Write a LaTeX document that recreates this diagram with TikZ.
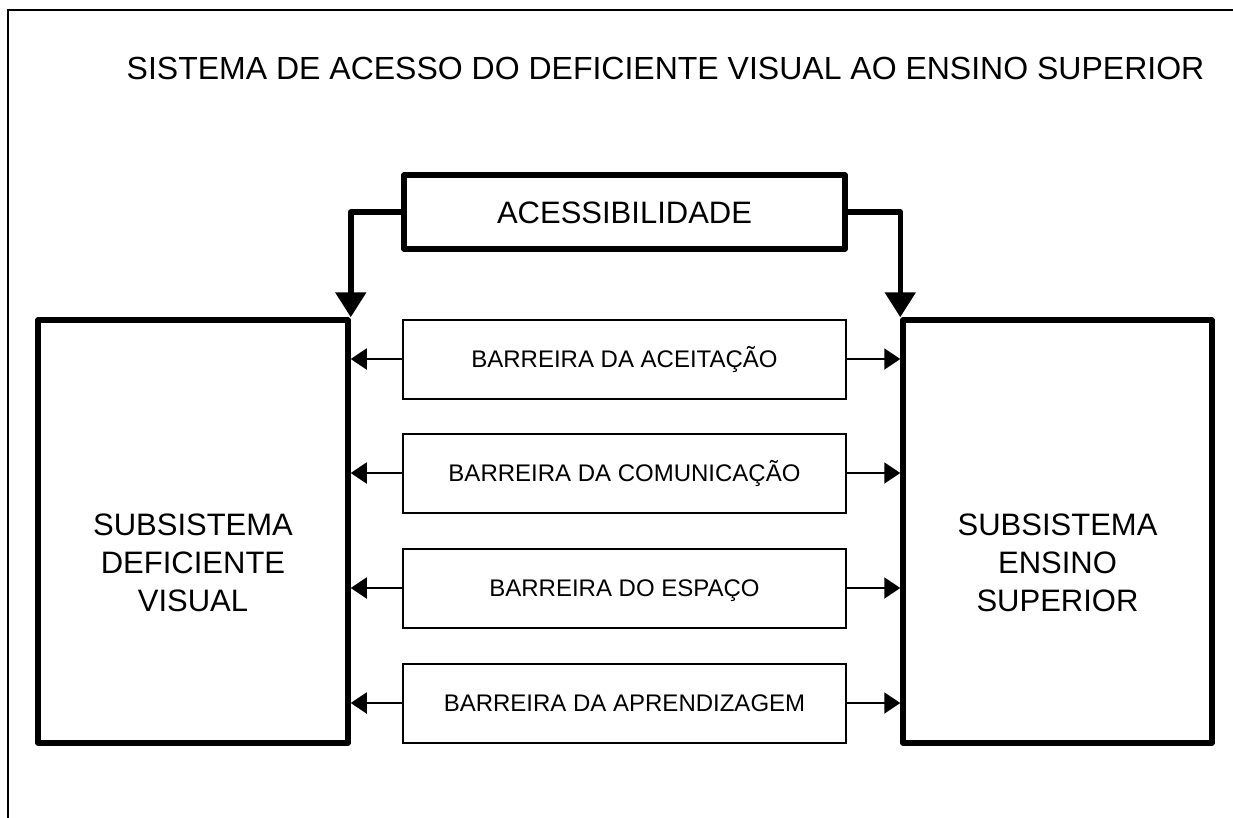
\documentclass[tikz,border=0pt]{standalone}
\usepackage{fontspec}
\setmainfont{Liberation Sans}
\usetikzlibrary{arrows.meta}
\begin{document}
\begin{tikzpicture}[x=1pt,y=-1pt,
  frameline/.style={line width=2.5pt},
  thickbox/.style={draw, line width=5.5pt, line join=round, inner sep=0pt},
  thinbox/.style={draw, line width=2pt, inner sep=0pt, minimum width=443pt, minimum height=79pt,
    font=\fontsize{24}{29}\selectfont, text height=17.2pt, text depth=0pt},
  bigtext/.style={inner sep=0pt, align=center, font=\fontsize{31}{38}\selectfont},
  bigarrow/.style={line width=5.5pt, line join=round, -{Triangle[length=25pt,width=30pt]}},
  smallarrow/.style={line width=2pt, -{Triangle[length=16pt,width=21pt]}}]
\useasboundingbox (0,0) rectangle (1233,818);
% frame
\draw[frameline] (8,818) -- (8,10) -- (1233,10);
% title
\node[anchor=base, inner sep=0pt, font=\fontsize{32}{38}\selectfont] (title) at (665.5,80)
  {SISTEMA DE ACESSO DO DEFICIENTE VISUAL AO ENSINO SUPERIOR};
% accessibility box
\node[thickbox, minimum width=441pt, minimum height=74pt, font=\fontsize{31}{37}\selectfont,
  text height=22.2pt, text depth=0pt] (acc) at (624.5,212) {ACESSIBILIDADE};
% big boxes
\node[thickbox, minimum width=310pt, minimum height=423pt] (dv) at (193,531.5) {};
\node[thickbox, minimum width=309pt, minimum height=423pt] (es) at (1057.5,531.5) {};
\node[bigtext] (dvtext) at (193,563) {SUBSISTEMA\\DEFICIENTE\\VISUAL};
\node[bigtext] (estext) at (1057.5,563) {SUBSISTEMA\\ENSINO\\SUPERIOR};
% barrier boxes
\node[thinbox] (b1) at (624.5,359) {BARREIRA DA ACEITAÇÃO};
\node[thinbox] (b2) at (624.5,473) {BARREIRA DA COMUNICAÇÃO};
\node[thinbox] (b3) at (624.5,588) {BARREIRA DO ESPAÇO};
\node[thinbox] (b4) at (624.5,703) {BARREIRA DA APRENDIZAGEM};
% accessibility connectors
\draw[bigarrow] (acc.west) -| (dv.north east);
\draw[bigarrow] (acc.east) -| (es.north west);
% barrier connectors
\foreach \b in {b1,b2,b3,b4}{
  \draw[smallarrow] (\b.west) -- (\b.west -| dv.east);
  \draw[smallarrow] (\b.east) -- (\b.east -| es.west);
}
\end{tikzpicture}
\end{document}
